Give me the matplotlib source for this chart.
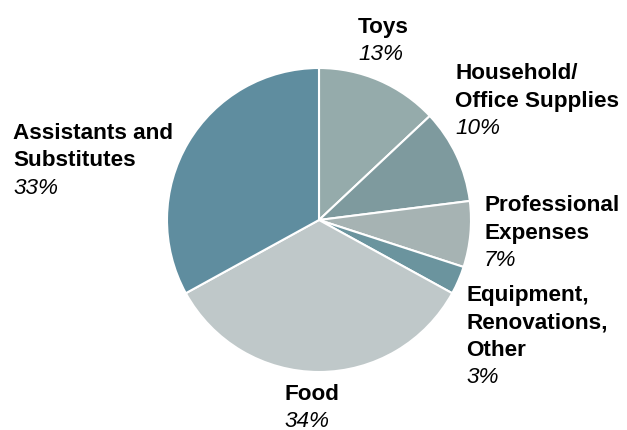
import matplotlib
matplotlib.use("Agg")
import matplotlib.pyplot as plt

plt.rcParams['font.family'] = ['Liberation Sans', 'DejaVu Sans']

# data, clockwise from 12 o'clock
categories = ['Toys', 'Household/\nOffice Supplies', 'Professional\nExpenses',
              'Equipment,\nRenovations,\nOther', 'Food', 'Assistants and\nSubstitutes']
shares = [13, 10, 7, 3, 34, 33]
colors = ['#95abab', '#7e9a9e', '#a6b3b3', '#6b949e', '#bfc8c9', '#5f8d9f']

# label anchors in pixels: left x, baseline of first line (from top)
label_pos = [(358, 33), (455, 79), (484, 211), (466, 301), (284, 400), (13, 139)]
pitch = 27.5

W, H = 627, 431
fig = plt.figure(figsize=(W / 100, H / 100), dpi=100)
ax = fig.add_axes([0, 0, 1, 1])

ax.pie(shares, colors=colors, startangle=90, counterclock=False,
       center=(319, H - 221), radius=152,
       wedgeprops=dict(edgecolor='white', linewidth=1.5))

ax.set_xlim(0, W)
ax.set_ylim(0, H)
ax.set_aspect('equal')
ax.axis('off')

for name, pct, (x, y) in zip(categories, shares, label_pos):
    lines = name.split('\n')
    for i, line in enumerate(lines):
        ax.text(x, H - (y + i * pitch), line, fontsize=16.2, weight='bold',
                ha='left', va='baseline', color='black')
    ax.text(x, H - (y + len(lines) * pitch), f'{pct}%', fontsize=16.2,
            style='italic', ha='left', va='baseline', color='black')

fig.savefig('out.png', dpi=100)
